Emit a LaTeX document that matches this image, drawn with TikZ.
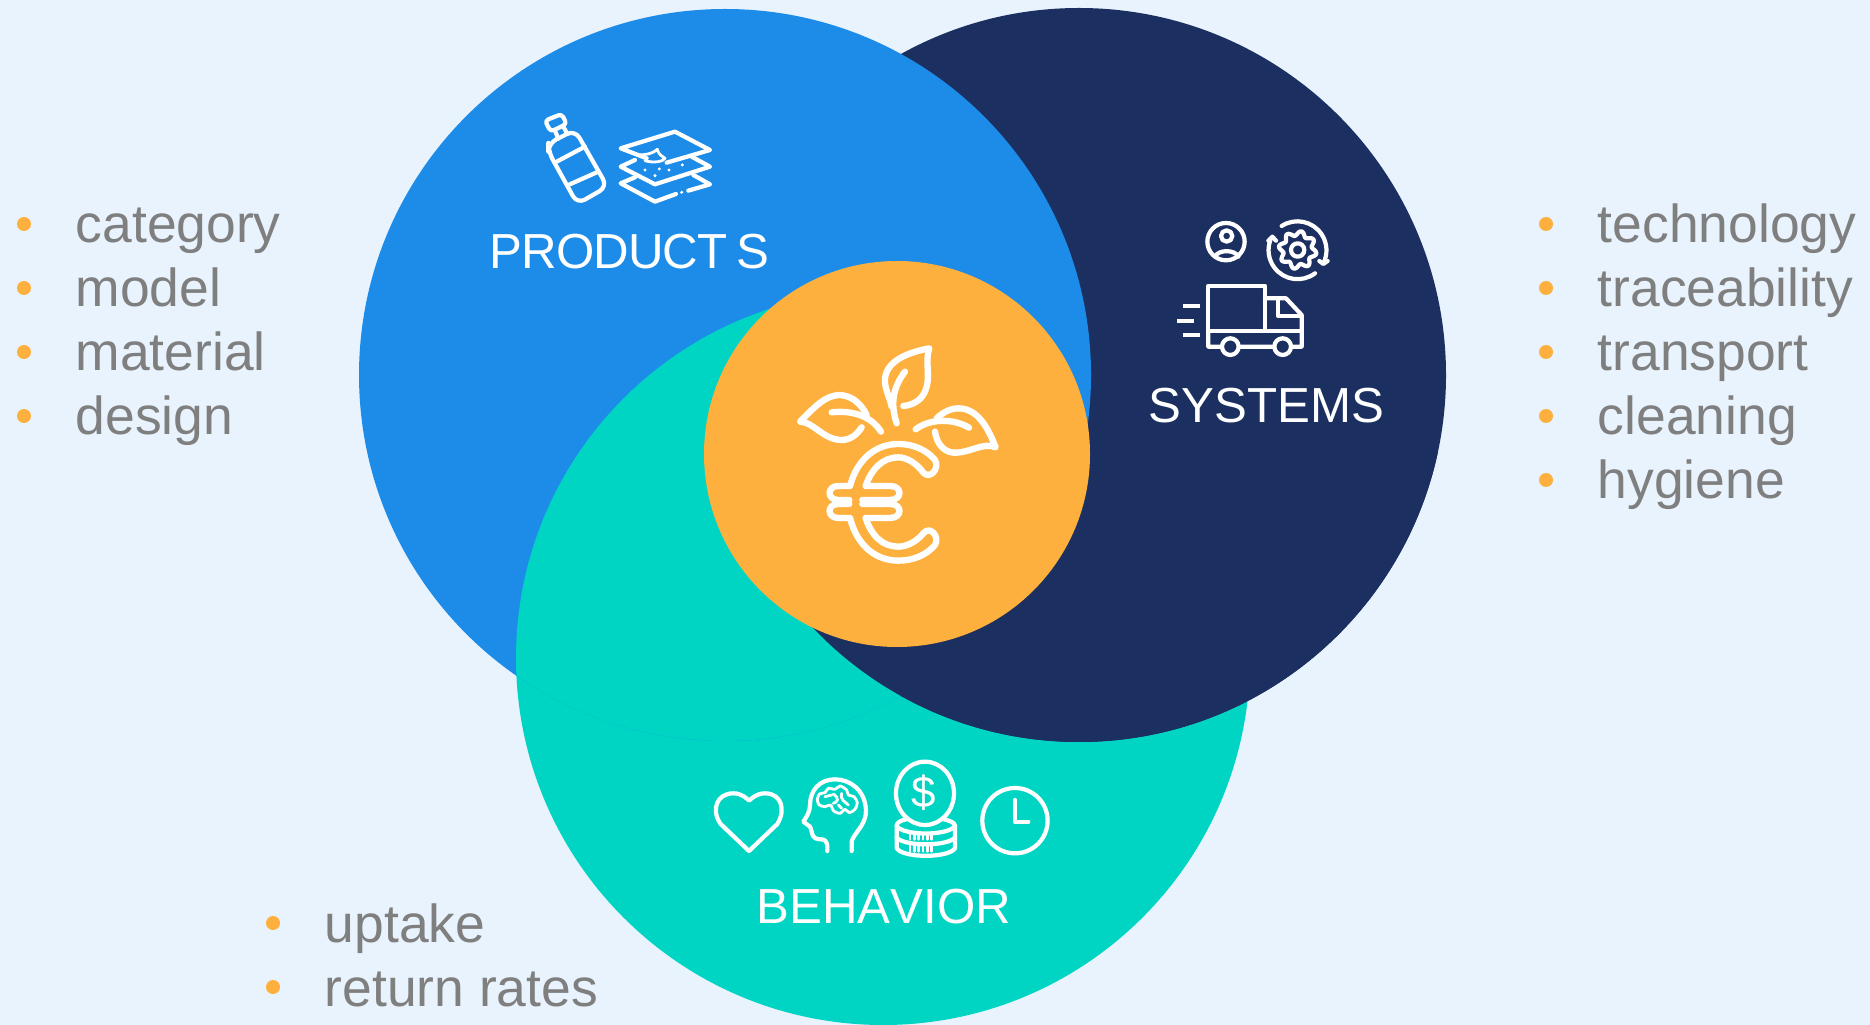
\documentclass[tikz,border=0pt]{standalone}
\usepackage{fontspec}
\setmainfont{Liberation Sans}
\definecolor{bgcol}{HTML}{E8F3FD}
\definecolor{prodcol}{HTML}{1C8CE8}
\definecolor{syscol}{HTML}{1B3060}
\definecolor{behcol}{HTML}{00D5C4}
\definecolor{ecocol}{HTML}{FDB03D}
\definecolor{itemcol}{HTML}{7F7F7F}
\tikzset{
  itemtext/.style={anchor=base west,inner sep=0pt,text=itemcol,font=\fontsize{15.2}{18}\selectfont},
  itemdot/.style={circle,fill=ecocol,inner sep=0pt,minimum size=14*0.01cm},
  circlelabel/.style={anchor=base west,inner sep=0pt,text=white,font=\fontsize{14}{17}\selectfont},
  iconline/.style={draw=white,line width=1.2pt,line cap=round,line join=round},
  thinline/.style={draw=white,line width=0.8pt,line cap=round,line join=round},
  euroline/.style={draw=white,line width=1.8pt,line cap=round,line join=round},
}
\begin{document}
\begin{tikzpicture}[x=0.01cm,y=-0.01cm]
    \useasboundingbox (0,0) rectangle (1870,1025);
    \fill[bgcol] (0,0) rectangle (1870,1025);

    % the three big circles, each one lies over the next
    \fill[behcol] (883,658) circle (367);
    \fill[syscol] (1079,375) circle (367);
    \fill[prodcol] (725,375) circle (366);
    \begin{scope}
        \clip (0,0) rectangle (960,1025);
        \clip (725,375) circle (366);
        \fill[behcol] (883,658) circle (367);
    \end{scope}
    \begin{scope}
        \clip (0,454) rectangle (1870,1025);
        \fill[syscol] (1079,375) circle (367);
    \end{scope}
    \fill[ecocol] (897,454) circle (193);

    % labels of the circles
    \node[circlelabel] (products) at (489,269) {{\addfontfeature{LetterSpace=-2}PRODUCT}\kern2.7pt S};
    \node[circlelabel] (systems) at (1148,423) {SYSTEMS};
    \node[circlelabel,font=\fontsize{14}{17}\selectfont\addfontfeature{Kerning=Off}] (behavior) at (756,923) {BEHAVIOR};

    % lists round the circles
    \foreach \i/\t in {0/category,1/model,2/material,3/design} {
        \node[itemdot] (leftdot\i) at (24,224+64*\i) {};
        \node[itemtext] (left\i) at (75,243+64*\i) {\t};
    }
    \foreach \i/\t in {0/technology,1/traceability,2/transport,3/cleaning,4/hygiene} {
        \node[itemdot] (rightdot\i) at (1546,224+64*\i) {};
        \node[itemtext] (right\i) at (1597,243+64*\i) {\t};
    }
    \foreach \i/\t in {0/uptake,1/return rates} {
        \node[itemdot] (lowdot\i) at (273,923+64*\i) {};
        \node[itemtext] (low\i) at (324,942+64*\i) {\t};
    }

    % bottle and layers
    \begin{scope}[shift={(520,90)},scale=0.3333]
        \draw[iconline,rounded corners=1pt] (75,92) -- (125,72) -- (140,102) -- (92,125) -- cycle;
        \draw[iconline] (107,127) -- (115,146) (131,112) -- (140,128);
        \draw[iconline,rounded corners=2.5pt] (85,160) -- (165,120) -- (262,290) -- (172,342) -- (85,185) -- cycle;
        \draw[iconline] (110,215) -- (195,170) (145,285) -- (235,245);
        \draw[iconline] (380,205) -- (302,175) -- (465,125) -- (570,180) -- (440,218);
        \draw[thinline] (375,212) .. controls (400,220) and (430,215) .. (435,205) .. controls (420,195) and (415,190) .. (412,178) .. controls (400,190) and (380,195) .. (350,195);
        \draw[iconline] (345,210) -- (302,230) -- (405,283) -- (570,230) -- (515,200);
        \draw[iconline] (345,262) -- (302,280) -- (405,335) -- (468,312);
        \draw[iconline] (505,302) -- (570,283) -- (520,255);
        \foreach \x/\y in {375/240,418/237,447/240,487/225,405/257,485/307} {
            \fill[white] (\x,\y) circle (5);
        }
    \end{scope}

    % person, gear and truck
    \begin{scope}[shift={(1160,200)},scale=0.3333]
        \draw[iconline] (198,125) circle (56);
        \draw[iconline] (200,108) circle (17);
        \draw[iconline] (165,170) .. controls (175,148) and (225,148) .. (235,170);
        \draw[iconline] (413,150) circle (20);
        \draw[iconline,smooth] plot[domain=0:360,samples=97] ({413+50*(1+0.14*sin(8*\x))*cos(\x)},{150+50*(1+0.14*sin(8*\x))*sin(\x)});
        \draw[iconline] (365,78) arc (-123:27:87);
        \draw[iconline] (478,183) -- (490,192) -- (503,183);
        \draw[iconline] (465,220) arc (53:202:87);
        \draw[iconline] (325,122) -- (337,110) -- (348,122);
        \draw[iconline] (145,258) rectangle (315,392);
        \draw[iconline] (145,392) -- (145,440) -- (185,440) (237,440) -- (342,440) (394,440) -- (425,440) -- (425,345) -- (378,295) -- (315,295);
        \draw[iconline] (315,392) -- (425,392);
        \draw[iconline] (355,298) -- (355,348) -- (425,348);
        \draw[iconline] (211,440) circle (25) (368,440) circle (25);
        \draw[iconline,line cap=butt] (70,318) -- (120,318) (52,362) -- (102,362) (70,404) -- (120,404);
    \end{scope}

    % leaves and euro
    \begin{scope}[shift={(770,320)},scale=0.3333]
        \draw[euroline] (400,258) .. controls (430,255) and (460,240) .. (470,200) .. controls (480,165) and (465,120) .. (478,85) .. controls (400,100) and (340,130) .. (345,190) .. controls (350,220) and (360,235) .. (365,260);
        \draw[euroline] (380,310) .. controls (360,250) and (370,200) .. (405,155);
        \draw[euroline] (290,285) .. controls (275,255) and (250,228) .. (210,225) .. controls (165,225) and (130,265) .. (90,305) .. controls (130,305) and (160,360) .. (215,360) .. controls (240,360) and (260,345) .. (275,322);
        \draw[euroline] (185,277) .. controls (250,270) and (305,290) .. (333,335);
        \draw[euroline] (500,295) .. controls (510,285) and (535,265) .. (565,265) .. controls (630,265) and (660,340) .. (677,382) .. controls (640,365) and (600,400) .. (550,398) .. controls (520,395) and (500,370) .. (495,335);
        \draw[euroline] (437,328) .. controls (480,295) and (550,295) .. (597,323);
        % upper half of the euro
        \draw[euroline] (287,498) .. controls (305,445) and (340,412) .. (385,412) .. controls (410,412) and (440,430) .. (460,458) .. controls (480,480) and (510,445) .. (495,420) .. controls (470,390) and (430,372) .. (385,372) .. controls (320,372) and (262,415) .. (240,498) -- (205,498) .. controls (170,498) and (170,540) .. (205,540) -- (238,540);
        \draw[euroline] (287,498) -- (360,498) .. controls (398,498) and (398,540) .. (360,540) -- (277,540);
        % lower half of the euro
        \draw[euroline] (287,594) .. controls (305,650) and (340,680) .. (385,680) .. controls (410,680) and (440,665) .. (460,640) .. controls (480,615) and (510,650) .. (495,675) .. controls (470,705) and (430,722) .. (385,722) .. controls (320,722) and (262,680) .. (240,594) -- (205,594) .. controls (170,594) and (170,552) .. (205,552) -- (238,552);
        \draw[euroline] (287,594) -- (360,594) .. controls (398,594) and (398,552) .. (360,552) -- (277,552);
    \end{scope}

    % heart, head, coins and clock
    \begin{scope}[shift={(700,750)},scale=0.3333]
        \draw[iconline] (147,303) -- (62,222) .. controls (32,180) and (50,130) .. (100,130) .. controls (125,130) and (140,145) .. (147,152) .. controls (155,145) and (170,130) .. (195,130) .. controls (245,130) and (258,180) .. (232,222) -- cycle;
        \draw[iconline] (455,303) -- (455,275) .. controls (460,250) and (500,225) .. (498,180) .. controls (495,120) and (450,88) .. (405,88) .. controls (360,88) and (330,120) .. (330,165) .. controls (330,185) and (320,200) .. (310,215) -- (330,230) .. controls (340,250) and (330,268) .. (365,268) .. controls (385,270) and (382,290) .. (382,303);
        % brain
        \draw[thinline,smooth cycle] plot coordinates {(352,150) (358,132) (375,128) (385,115) (405,118) (420,108) (440,120) (445,135) (462,140) (472,158) (465,178) (448,188) (435,178) (420,190) (400,182) (392,165) (375,170) (358,165)};
        \draw[thinline] (375,140) -- (395,135) (400,132) .. controls (418,145) and (415,155) .. (400,160) (425,130) .. controls (420,150) and (435,155) .. (445,165) (415,165) -- (425,175);
        % coins
        \draw[iconline] (675,130) ellipse (87 and 95);
        \node[inner sep=0pt,text=white,font=\fontsize{12.5}{15}\selectfont] (dollar) at (670,128) {\$};
        \draw[iconline] (618,208) .. controls (600,212) and (590,218) .. (590,228) -- (590,295) .. controls (610,325) and (745,325) .. (765,295) -- (765,228) .. controls (765,218) and (750,212) .. (732,208);
        \draw[iconline] (590,228) .. controls (610,258) and (745,258) .. (765,228);
        \draw[iconline] (590,262) .. controls (610,290) and (745,290) .. (765,262);
        \foreach \x in {630,643,...,695} {
            \draw[thinline] (\x,250) -- (\x,268) (\x,284) -- (\x,304);
        }
        % clock
        \draw[iconline] (945,212) circle (98);
        \draw[iconline] (945,150) -- (945,215) -- (985,215);
    \end{scope}
\end{tikzpicture}
\end{document}
